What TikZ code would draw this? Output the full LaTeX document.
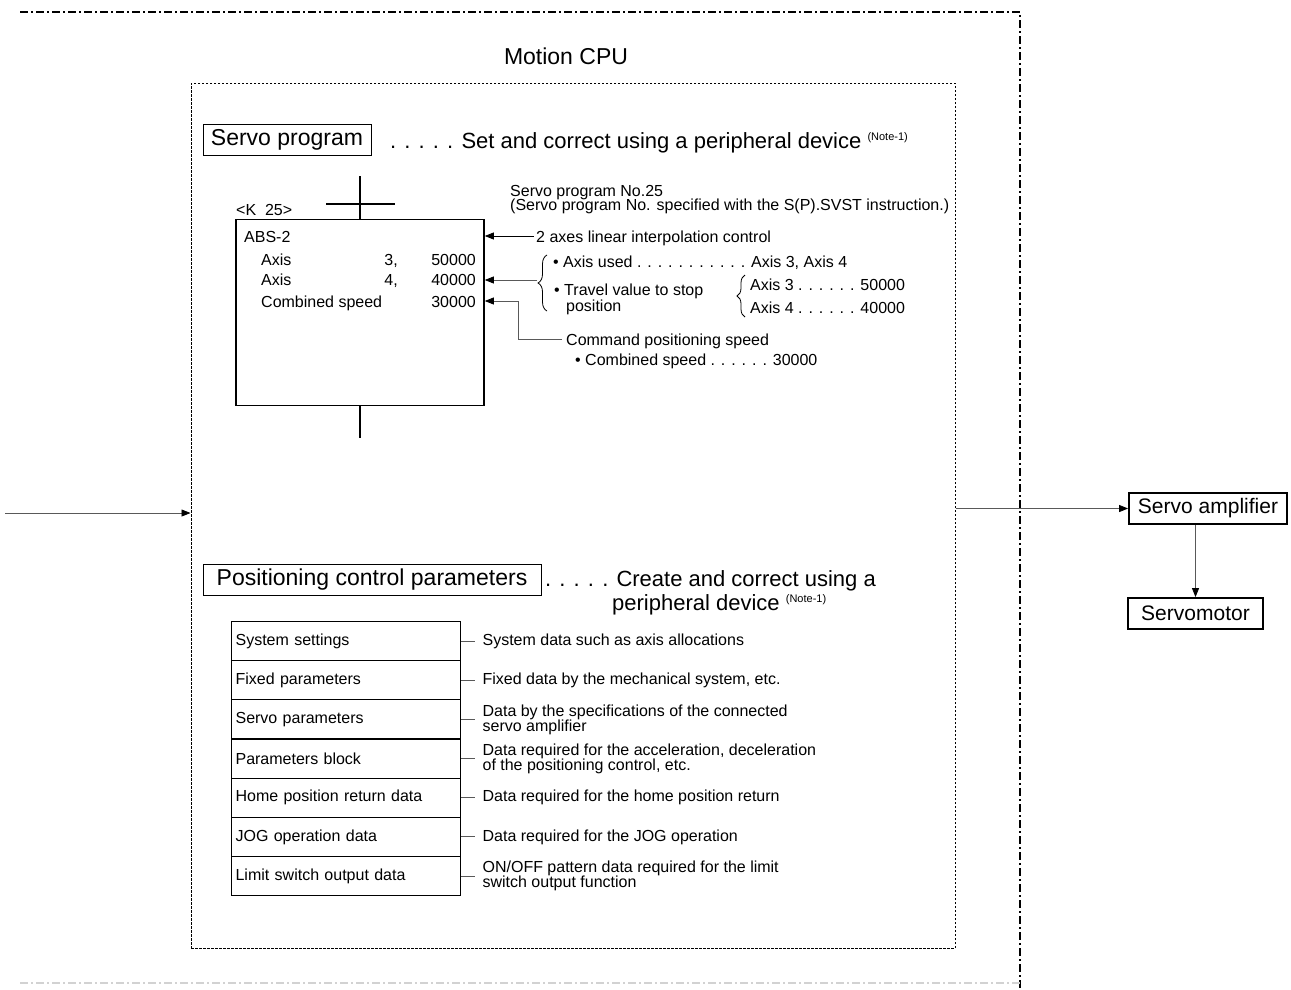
\documentclass[tikz,border=0pt]{standalone}
\usepackage{fontspec}
\setmainfont{Liberation Sans}
\usetikzlibrary{arrows.meta, positioning, decorations.pathreplacing}

\newcommand{\notemark}{\raisebox{8pt}{\fontsize{11}{11}\selectfont (Note-1)}}

\begin{document}
\begin{tikzpicture}[x=1pt, y=-1pt, >={Triangle[length=9pt,width=7pt,color=black]},
  big/.style={font=\fontsize{22}{26}\selectfont, inner sep=0pt},
  small/.style={font=\fontsize{16}{19}\selectfont, inner sep=0pt},
  tight/.style={font=\fontsize{16}{15}\selectfont, inner sep=0pt, align=left, text=black},
  title box/.style={draw, line width=0.8pt, font=\fontsize{23}{27}\selectfont, minimum height=31pt, inner sep=0pt},
  unit box/.style={draw, line width=1.8pt, font=\fontsize{21}{25}\selectfont, minimum height=31pt, inner sep=0pt},
  row box/.style={draw, line width=1.2pt, anchor=north west, minimum width=229pt, minimum height=39.14pt,
    text width=221pt, inner xsep=4pt, inner ysep=0pt, align=left, font=\fontsize{16}{19}\selectfont},
  lead/.style={gray!70!black, line width=0.8pt},
  frame/.style={line width=1.6pt, dash pattern=on 8pt off 3pt on 2pt off 3pt}]

  \useasboundingbox (0,0) rectangle (1291,989);

  % outer and inner frames
  \draw[frame] (20,12) -- (1020,12) -- (1020,989);
  \draw[frame, gray!35] (20,983) -- (1020,983);
  \node[draw, line width=1pt, dash pattern=on 2.5pt off 1.5pt, minimum width=764pt, minimum height=865pt,
    inner sep=0pt] (cpu) at (573,515.5) {};
  \node[font=\fontsize{23}{27}\selectfont, anchor=base, inner sep=0pt] (cpuname) at (566,64) {Motion CPU};

  % servo program
  \node[title box, minimum width=168pt] (sp) at (287,139.5) {Servo program};
  \node[big, anchor=base west] (spnote) at (390,148) {. . . . . Set and correct using a peripheral device \notemark};

  \node[small, anchor=base west] (k25) at (236,215) {<K\ \ 25>};
  \node[small, anchor=base west] (spno) at (510,196) {Servo program No.25};
  \node[small, anchor=base west] (spno2) at (510,210) {(Servo program No. specified with the S(P).SVST instruction.)};

  \node[draw, line width=1.6pt, minimum width=248pt, minimum height=186pt, inner sep=0pt] (abs) at (360,312.5) {};
  \coordinate (railtop) at (360,176);
  \coordinate (railbot) at (360,438);
  \draw[line width=1.6pt] (railtop) -- (abs.north);
  \draw[line width=1.6pt] (abs.south) -- (railbot);
  \draw[line width=1.6pt] (326,204) -- (395,204);

  \node[small, anchor=base west] (absname) at (244,242) {ABS-2};
  \node[small, anchor=base west] (ax1) at (261,265) {Axis};
  \node[small, anchor=base east] (ax1n) at (398,265) {3,};
  \node[small, anchor=base east] (ax1v) at (476,265) {50000};
  \node[small, anchor=base west] (ax2) at (261,285) {Axis};
  \node[small, anchor=base east] (ax2n) at (398,285) {4,};
  \node[small, anchor=base east] (ax2v) at (476,285) {40000};
  \node[small, anchor=base west] (spd) at (261,307) {Combined speed};
  \node[small, anchor=base east] (spdv) at (476,307) {30000};

  % notes on the servo program
  \node[small, anchor=base west] (n1) at (536,242) {2 axes linear interpolation control};
  \coordinate (c1) at (534,236);
  \draw[->, line width=0.8pt] (c1) -- (c1 -| abs.east);

  \draw[decorate, decoration={brace, amplitude=9pt}, line width=0.8pt] (547,311) -- (547,255);
  \coordinate (c2) at (537,280);
  \draw[lead, ->] (c2) -- (c2 -| abs.east);
  \node[small, anchor=base west] (n2) at (553,267) {• Axis used . . . . . . . . . . . Axis 3, Axis 4};
  \node[small, anchor=base west] (n3) at (554,295) {• Travel value to stop};
  \node[small, anchor=base west] (n3b) at (566,311) {position};

  \draw[decorate, decoration={brace, amplitude=8pt}, line width=0.8pt] (745,317) -- (745,275);
  \node[small, anchor=base west] (n4) at (750,290) {Axis 3 . . . . . . 50000};
  \node[small, anchor=base west] (n5) at (750,313) {Axis 4 . . . . . . 40000};

  \coordinate (c3) at (562,339);
  \coordinate (k3) at (518,301);
  \draw[lead, ->] (c3) -| (k3) -- (k3 -| abs.east);
  \node[small, anchor=base west] (n6) at (566,345) {Command positioning speed};
  \node[small, anchor=base west] (n7) at (575,365) {• Combined speed . . . . . . 30000};

  % positioning control parameters
  \node[title box, minimum width=338pt] (pcp) at (372,579.5) {Positioning control parameters};
  \node[big, anchor=base west] (pcpnote) at (545,586) {. . . . . Create and correct using a};
  \node[big, anchor=base west] (pcpnote2) at (612,610) {peripheral device \notemark};

  \foreach \lbl/\desc [count=\i] in {
      System settings/System data such as axis allocations,
      {Fixed parameters/Fixed data by the mechanical system, etc.},
      Servo parameters/Data by the specifications of the connected\\servo amplifier,
      {Parameters block/Data required for the acceleration, deceleration\\of the positioning control, etc.},
      Home position return data/Data required for the home position return,
      JOG operation data/Data required for the JOG operation,
      Limit switch output data/{ON/OFF pattern data required for the limit\\switch output function}} {
    \node[row box] (row\i) at (231,{621+(\i-1)*39.14}) {\lbl};
    \draw[lead] (row\i.east) -- ++(14,0) node[tight, anchor=west, inner xsep=7pt] (desc\i) {\desc};
  }

  % connections
  \coordinate (in) at (5,513);
  \draw[lead, ->] (in) -- (in -| cpu.west);
  \node[unit box, minimum width=158pt] (amp) at (1208,508.5) {Servo amplifier};
  \node[unit box, minimum width=135pt] (motor) at (1195.5,613.5) {Servomotor};
  \draw[lead, ->] (amp.west -| cpu.east) -- (amp.west);
  \draw[lead, ->] (motor.north |- amp.south) -- (motor.north);
\end{tikzpicture}
\end{document}
